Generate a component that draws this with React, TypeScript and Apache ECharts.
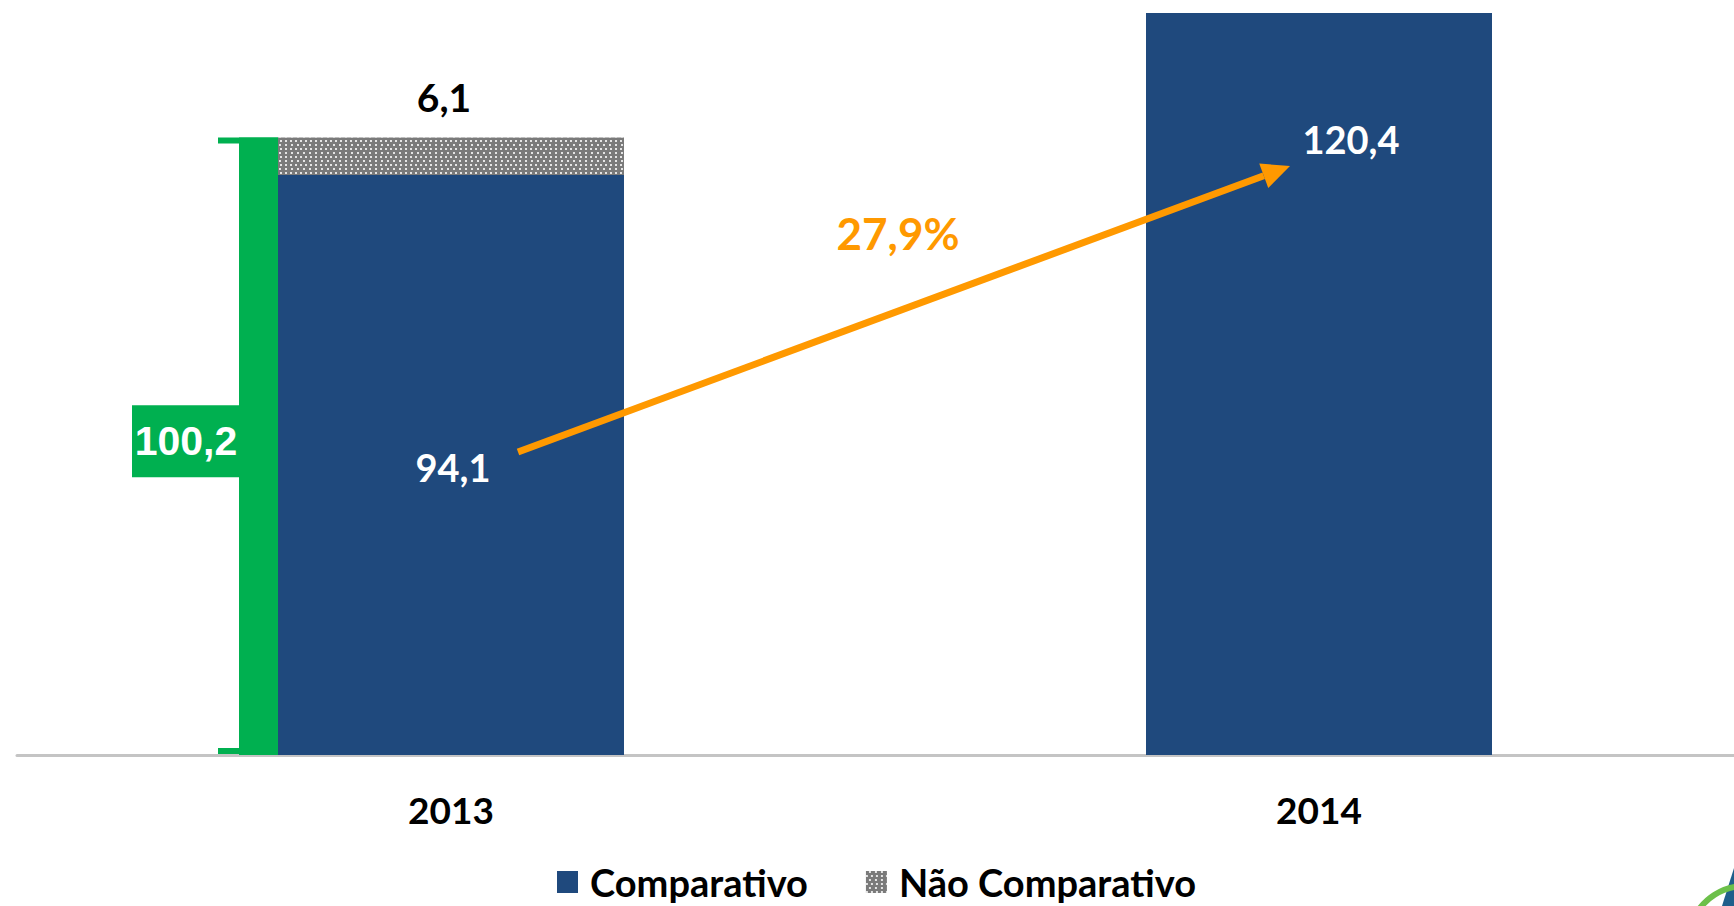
import React, { useEffect, useRef } from 'react';
import * as echarts from 'echarts';

const categories = ['2013', '2014'];
const comparativo = [94.1, 120.4];
const naoComparativo: (number | string)[] = [6.1, '-'];
const total2013 = 100.2;
const growthLabel = '27,9%';
const seriesNames = ['Comparativo', 'Não Comparativo'];

const fmt = (v: number) => v.toFixed(1).replace('.', ',');

export default function App() {
  const ref = useRef<HTMLDivElement>(null);

  useEffect(() => {
    document.body.style.margin = '0';
    document.body.style.overflow = 'hidden';
    const chart = echarts.init(ref.current!, null, { renderer: 'svg' });
    const font = 'Lato, "Open Sans", sans-serif';
    const barWidth = 346;

    chart.setOption({
      animation: false,
      grid: { left: 17, right: 0, top: 13, bottom: 151 },
      xAxis: {
        type: 'category',
        data: categories,
        axisLine: { lineStyle: { color: '#c4c4c4', width: 3 } },
        axisTick: { show: false },
        axisLabel: {
          margin: 36,
          fontFamily: font,
          fontWeight: 'bold',
          fontSize: 37,
          color: '#000',
        },
      },
      yAxis: { type: 'value', min: 0, max: 120.4, show: false },
      legend: {
        data: seriesNames,
        top: 858,
        left: 'center',
        icon: 'rect',
        itemWidth: 21,
        itemHeight: 22,
        itemGap: 58,
        textStyle: {
          fontFamily: font,
          fontWeight: 'bold',
          fontSize: 38,
          lineHeight: 38,
          color: '#000',
          padding: [0, 0, 0, 7],
        },
      },
      series: [
        {
          name: seriesNames[0],
          type: 'bar',
          stack: 'total',
          barWidth,
          itemStyle: { color: '#1F497D' },
          data: comparativo.map((v, i) => ({
            value: v,
            label:
              i === 0
                ? { position: 'inside', offset: [2, 2] }
                : { position: [205, 126], align: 'center', verticalAlign: 'middle' },
          })),
          label: {
            show: true,
            formatter: (p: any) => fmt(p.value),
            fontFamily: font,
            fontWeight: 'bold',
            fontSize: 38,
            color: '#fff',
          },
        },
        {
          name: seriesNames[1],
          type: 'bar',
          stack: 'total',
          barWidth,
          itemStyle: {
            color: '#7a7a7a',
            decal: {
              symbol: 'rect',
              symbolSize: 1,
              color: 'rgba(255,255,255,0.8)',
              dashArrayX: [[2, 3], [0, 2.5, 2, 0.5]],
              dashArrayY: [2, 1.5],
              rotation: 0,
            },
          },
          data: naoComparativo,
          label: {
            show: true,
            position: 'top',
            distance: 21,
            offset: [-7, 0],
            formatter: (p: any) => fmt(p.value),
            fontFamily: font,
            fontWeight: 'bold',
            fontSize: 39,
            color: '#000',
          },
        },
      ],
    });

    const [cx0, y0] = chart.convertToPixel({ gridIndex: 0 }, [0, 0]) as number[];
    const [, yTot] = chart.convertToPixel({ gridIndex: 0 }, [0, total2013]) as number[];
    const barLeft = cx0 - barWidth / 2;
    const mid = (yTot + y0) / 2 - 5;
    const green = '#00B050';
    const orange = '#FF9900';

    const tip = [1290, 166];
    const start = [518, 452];
    const dx = tip[0] - start[0];
    const dy = tip[1] - start[1];
    const len = Math.sqrt(dx * dx + dy * dy);
    const ux = dx / len, uy = dy / len;
    const nx = -uy, ny = ux;
    const headLen = 28, headHalf = 13;
    const bx = tip[0] - headLen * ux, by = tip[1] - headLen * uy;

    chart.setOption({
      graphic: [
        { type: 'rect', shape: { x: barLeft - 39, y: yTot, width: 39, height: y0 - yTot }, style: { fill: green }, z: 10 },
        { type: 'rect', shape: { x: barLeft - 60, y: yTot, width: 60, height: 6 }, style: { fill: green }, z: 10 },
        { type: 'rect', shape: { x: barLeft - 60, y: y0 - 7, width: 60, height: 6 }, style: { fill: green }, z: 10 },
        { type: 'rect', shape: { x: barLeft - 146, y: mid - 36, width: 108, height: 72 }, style: { fill: green }, z: 10 },
        {
          type: 'text',
          x: barLeft - 92,
          y: mid,
          style: {
            text: fmt(total2013),
            fill: '#fff',
            fontFamily: '"Liberation Sans", Arial, sans-serif',
            fontWeight: 'bold',
            fontSize: 41,
            align: 'center',
            verticalAlign: 'middle',
          },
          z: 11,
        },
        {
          type: 'line',
          shape: { x1: start[0], y1: start[1], x2: bx, y2: by },
          style: { stroke: orange, lineWidth: 7 },
          z: 10,
        },
        {
          type: 'polygon',
          shape: {
            points: [
              [tip[0], tip[1]],
              [bx + headHalf * nx, by + headHalf * ny],
              [bx - headHalf * nx, by - headHalf * ny],
            ],
          },
          style: { fill: orange },
          z: 10,
        },
        {
          type: 'text',
          x: 898,
          y: 233,
          style: {
            text: growthLabel,
            fill: orange,
            fontFamily: font,
            fontWeight: 'bold',
            fontSize: 44,
            align: 'center',
            verticalAlign: 'middle',
          },
          z: 10,
        },
        {
          type: 'arc',
          shape: { cx: 1745, cy: 943, r: 57, startAngle: 3.7, endAngle: 4.6, clockwise: true },
          style: { stroke: '#6CC04A', lineWidth: 6, fill: 'none' },
          z: 10,
        },
        {
          type: 'polygon',
          shape: { points: [[1722, 906], [1734, 868], [1734, 906]] },
          style: { fill: '#1F5F8B' },
          z: 9,
        },
      ],
    });

    return () => chart.dispose();
  }, []);

  return <div ref={ref} style={{ width: 1753, height: 906 }} />;
}
